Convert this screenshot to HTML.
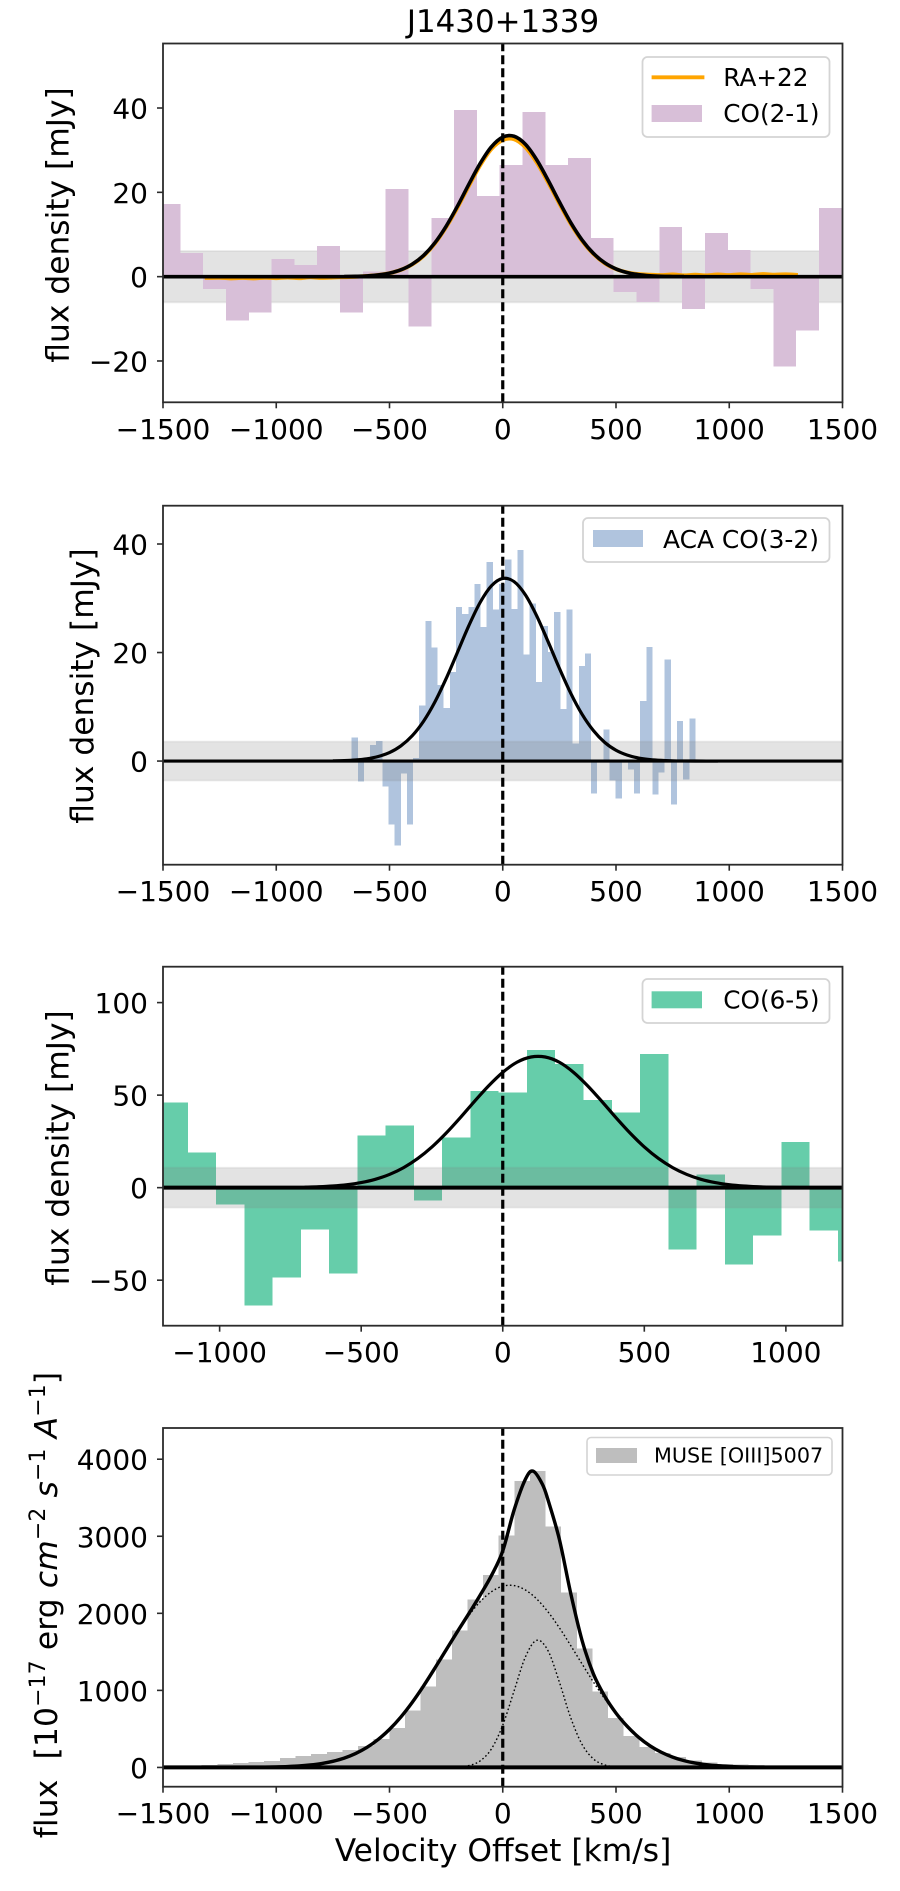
<!DOCTYPE html>
<html lang="en">
<head>
<meta charset="utf-8">
<title>J1430+1339</title>
<style>
html,body{margin:0;padding:0;background:#fff;}
svg{display:block;}
text{font-family:"DejaVu Sans","Liberation Sans",sans-serif;fill:#000;white-space:pre;}
</style>
</head>
<body>
<svg id="figure" xmlns="http://www.w3.org/2000/svg" width="900" height="1891" viewBox="0 0 900 1891">
  <rect x="0" y="0" width="900" height="1891" fill="#fff"/>
  <text x="503" y="32" font-size="30.9" text-anchor="middle">J1430+1339</text>
  <g id="panel-a"></g>
  <g id="panel-b"></g>
  <g id="panel-c"></g>
  <g id="panel-d"></g>

  <text transform="translate(68.5,225) rotate(-90)" font-size="31.3" text-anchor="middle">flux density [mJy]</text>
  <text transform="translate(93,686) rotate(-90)" font-size="31.3" text-anchor="middle">flux density [mJy]</text>
  <text transform="translate(68.5,1148) rotate(-90)" font-size="31.3" text-anchor="middle">flux density [mJy]</text>
  <text transform="translate(57,1605) rotate(-90)" font-size="31.3" letter-spacing="0.15" text-anchor="middle">flux  [10<tspan font-size="21.9" dy="-12">−17</tspan><tspan dy="12"> erg </tspan><tspan font-style="italic">cm</tspan><tspan font-size="21.9" dy="-12">−2</tspan><tspan dy="12"> </tspan><tspan font-style="italic">s</tspan><tspan font-size="21.9" dy="-12">−1</tspan><tspan dy="12"> </tspan><tspan font-style="italic">A</tspan><tspan font-size="21.9" dy="-12">−1</tspan><tspan dy="12">]</tspan></text>
  <text x="503" y="1861" font-size="31.3" text-anchor="middle">Velocity Offset [km/s]</text>

  <g>
    <rect x="642.5" y="57" width="187" height="80" rx="5" fill="#fff" fill-opacity="0.85" stroke="#d4d4d4" stroke-width="1.8"/>
    <line x1="651.6" x2="704.4" y1="77.3" y2="77.3" stroke="#ffa500" stroke-width="3.8"/>
    <text x="723.3" y="86" font-size="24.7">RA+22</text>
    <rect x="651.6" y="105" width="50.4" height="17" fill="#d8bfd8"/>
    <text x="723.3" y="122" font-size="24.7">CO(2-1)</text>
  </g>
  <g>
    <rect x="583" y="518" width="246.5" height="44" rx="5" fill="#fff" fill-opacity="0.85" stroke="#d4d4d4" stroke-width="1.8"/>
    <rect x="593" y="530" width="50" height="17" fill="#b0c4de"/>
    <text x="663" y="548" font-size="24.9">ACA CO(3-2)</text>
  </g>
  <g>
    <rect x="642.5" y="979" width="187" height="44" rx="5" fill="#fff" fill-opacity="0.85" stroke="#d4d4d4" stroke-width="1.8"/>
    <rect x="651.6" y="991.3" width="50.4" height="17" fill="#66cdaa"/>
    <text x="723.3" y="1008.7" font-size="24.7">CO(6-5)</text>
  </g>
  <g>
    <rect x="587" y="1437.5" width="245" height="37.5" rx="4" fill="#fff" fill-opacity="0.85" stroke="#d4d4d4" stroke-width="1.6"/>
    <rect x="596" y="1448" width="41" height="15" fill="#bebebe"/>
    <text x="654" y="1462.7" font-size="20.7">MUSE [OIII]5007</text>
  </g>
</svg>
<script>
// ---------- Chart data ----------
const xTicksWide = [-1500, -1000, -500, 0, 500, 1000, 1500];
const xTicksNarrow = [-1000, -500, 0, 500, 1000];
const co21YTicks = [-20, 0, 20, 40];
const co32YTicks = [0, 20, 40];
const co65YTicks = [-50, 0, 50, 100];
const oiiiYTicks = [0, 1000, 2000, 3000, 4000];

// CO(2-1) histogram
const co21BinStart = -1524;
const co21BinWidth = 100.7;
const co21Flux = [17.2, 5.6, -2.9, -10.4, -8.5, 4.2, 2.8, 7.3, -8.5, 1.2, 20.8, -11.8, 13.9, 39.5, 19.1, 26.5, 39.0, 26.5, 28.1, 9.2, -3.6, -6.0, 11.8, -7.7, 10.3, 6.3, -2.9, -21.3, -12.8, 16.3];
const co21Noise = 6.1;
const co21FitV = [-700, -650, -600, -550, -500, -450, -400, -350, -300, -250, -200, -150, -100, -50, 0, 50, 100, 150, 200, 250, 300, 350, 400, 450, 500, 550, 600, 650, 700, 750, 800];
const co21FitFlux = [0.03, 0.08, 0.18, 0.40, 0.83, 1.62, 2.95, 5.01, 8.0, 11.95, 16.71, 21.88, 26.82, 30.8, 33.1, 33.3, 31.4, 27.7, 22.9, 17.73, 12.84, 8.72, 5.54, 3.29, 1.83, 0.96, 0.47, 0.21, 0.09, 0.04, 0.01];
const ra22V = [-1316, -1250, -1200, -1150, -1100, -1050, -1000, -950, -900, -850, -800, -750, -700, -650, -600, -550, -500, -450, -400, -350, -300, -250, -200, -150, -100, -50, 0, 50, 100, 150, 200, 250, 300, 350, 400, 450, 500, 550, 600, 650, 700, 750, 800, 850, 900, 950, 1000, 1050, 1100, 1150, 1200, 1250, 1303];
const ra22Flux = [-0.3, -0.25, -0.4, -0.3, -0.4, -0.25, -0.35, -0.2, -0.35, -0.15, -0.3, -0.2, -0.1, -0.02, 0.15, 0.39, 0.82, 1.6, 2.9, 4.9, 7.85, 11.75, 16.4, 21.5, 26.4, 30.3, 32.4, 32.6, 30.7, 27.1, 22.4, 17.35, 12.55, 8.5, 5.4, 3.2, 1.8, 1.0, 0.6, 0.45, 0.35, 0.5, 0.3, 0.45, 0.3, 0.5, 0.35, 0.55, 0.4, 0.6, 0.45, 0.55, 0.4];

// ACA CO(3-2) histogram
const co32BinStart = -667;
const co32BinWidth = 27.1;
const co32Flux = [4.3, -3.8, 0, 3.0, 3.7, -4.7, -11.7, -15.6, -2.3, -11.7, 0.6, 10.2, 25.8, 20.9, 14.0, 9.8, 16.4, 28.4, 27.1, 28.4, 32.6, 24.7, 36.7, 27.9, 32.6, 37.1, 28.0, 38.9, 19.6, 29.0, 14.6, 24.9, 20.1, 27.5, 9.6, 27.9, 3.2, 17.5, 19.8, -6.0, 0, 5.8, -3.6, -6.9, -0.2, -1.6, -6.0, 11.1, 21.0, -6.2, -2.1, 18.7, -8.0, 7.4, -3.4, 7.8];
const co32Noise = 3.6;
const co32FitV = [-750, -700, -650, -600, -550, -500, -450, -400, -350, -300, -250, -200, -150, -100, -50, 0, 50, 100, 150, 200, 250, 300, 350, 400, 450, 500, 550, 600, 650, 700, 750, 800, 850, 900, 950];
const co32FitFlux = [0.04, 0.09, 0.2, 0.42, 0.84, 1.57, 2.79, 4.65, 7.32, 10.86, 15.2, 20.04, 24.93, 29.22, 32.3, 33.66, 33.07, 30.63, 26.75, 22.02, 17.1, 12.51, 8.63, 5.62, 3.44, 1.99, 1.09, 0.56, 0.27, 0.12, 0.05, 0.02, 0.01, 0, 0];

// CO(6-5) histogram
const co65BinStart = -1211.8;
const co65BinWidth = 99.8;
const co65Flux = [45.9, 18.9, -9.2, -63.7, -48.6, -22.7, -46.4, 28.1, 33.5, -7.0, 27.0, 52.3, 51.3, 74.5, 66.9, 47.5, 40.5, 72.3, -33.5, 7.0, -41.5, -25.9, 24.8, -23.2, -39.9];
const co65Noise = 10.8;
const co65FitV = [-700, -650, -600, -550, -500, -450, -400, -350, -300, -250, -200, -150, -100, -50, 0, 50, 100, 150, 200, 250, 300, 350, 400, 450, 500, 550, 600, 650, 700, 750, 800, 850, 900, 950, 1000, 1050];
const co65FitFlux = [0.24, 0.48, 0.89, 1.6, 2.74, 4.52, 7.15, 10.84, 15.77, 22.0, 29.45, 37.8, 46.6, 55.0, 62.3, 67.75, 70.6, 70.6, 67.75, 62.3, 55.0, 46.6, 37.8, 29.45, 22.0, 15.77, 10.84, 7.15, 4.52, 2.74, 1.6, 0.89, 0.48, 0.24, 0.11, 0.05];

// MUSE [OIII] histogram
const oiiiBinStart = -1398;
const oiiiBinWidth = 69;
const oiiiFlux = [20, 30, 43, 56, 69, 82, 121, 147, 173, 199, 224, 276, 367, 509, 742, 1053, 1403, 1778, 2180, 2500, 3008, 3720, 3850, 3125, 2270, 1545, 988, 639, 406, 263, 185, 134, 90, 65, 47, 39, 30, 22, 15, 10, 7, 5];
const oiiiTotalV = [-1200, -1150, -1100, -1050, -1000, -950, -900, -850, -800, -750, -700, -650, -600, -550, -500, -450, -400, -350, -300, -250, -200, -150, -100, -50, 0, 50, 100, 134, 175, 200, 250, 300, 350, 400, 450, 500, 550, 600, 650, 700, 750, 800, 850, 900, 950, 1000, 1050, 1100, 1150, 1200];
const oiiiFitTotal = [0.5, 1, 2, 3.6, 6.4, 11.3, 19, 31.7, 51, 79.8, 121, 180, 259, 363, 494, 654, 843, 1056, 1287, 1526, 1763, 1995, 2235, 2490, 2810, 3340, 3740, 3845, 3675, 3470, 2960, 2260, 1650, 1215, 925, 705, 532, 391, 281, 197, 134, 88, 57, 36, 22, 13, 7, 4, 2, 1];
const oiiiFitV = [-1200, -1150, -1100, -1050, -1000, -950, -900, -850, -800, -750, -700, -650, -600, -550, -500, -450, -400, -350, -300, -250, -200, -150, -100, -50, 0, 50, 100, 150, 200, 250, 300, 350, 400, 450, 500, 550, 600, 650, 700, 750, 800, 850, 900, 950, 1000, 1050, 1100, 1150, 1200];
const oiiiFitBroad = [0.5, 1, 2, 3.6, 6.4, 11.3, 19, 31.7, 51, 79.8, 121, 180, 259, 363, 494, 654, 843, 1056, 1287, 1525, 1758, 1971, 2150, 2280, 2352, 2360, 2303, 2186, 2018, 1812, 1582, 1344, 1110, 892, 697, 530, 391, 281, 197, 134, 88, 57, 36, 22, 13, 7, 4, 2, 1];
const oiiiNarrowV = [-400, -300, -200, -150, -100, -50, 0, 50, 100, 150, 200, 250, 300, 350, 400, 450, 500, 550, 600, 700];
const oiiiFitNarrow = [0, 0, 5, 24, 85, 241, 548, 993, 1434, 1650, 1514, 1107, 645, 300, 111, 33, 8, 1.5, 0, 0];

// ---------- Helpers ----------
const SVG_NS = 'http://www.w3.org/2000/svg';

function el(parent, tag, attrs) {
  const node = document.createElementNS(SVG_NS, tag);
  for (const key in attrs) node.setAttribute(key, attrs[key]);
  parent.appendChild(node);
  return node;
}

function linearScale(d0, d1, r0, r1) {
  return function (value) {
    return r0 + (value - d0) * (r1 - r0) / (d1 - d0);
  };
}

function smoothPath(vs, ys, xAxis, yAxis) {
  const pts = vs.map(function (v, i) { return [xAxis(v), yAxis(ys[i])]; });
  let d = 'M' + pts[0][0].toFixed(2) + ' ' + pts[0][1].toFixed(2);
  for (let i = 0; i < pts.length - 1; i++) {
    const p0 = pts[Math.max(i - 1, 0)];
    const p1 = pts[i];
    const p2 = pts[i + 1];
    const p3 = pts[Math.min(i + 2, pts.length - 1)];
    const c1x = p1[0] + (p2[0] - p0[0]) / 6;
    const c1y = p1[1] + (p2[1] - p0[1]) / 6;
    const c2x = p2[0] - (p3[0] - p1[0]) / 6;
    const c2y = p2[1] - (p3[1] - p1[1]) / 6;
    d += 'C' + c1x.toFixed(2) + ' ' + c1y.toFixed(2) + ' ' + c2x.toFixed(2) + ' ' + c2y.toFixed(2) + ' ' + p2[0].toFixed(2) + ' ' + p2[1].toFixed(2);
  }
  return d;
}

function fmtTick(v) {
  return v < 0 ? '\u2212' + Math.abs(v) : String(v);
}

function drawPanel(cfg) {
  const g = document.getElementById(cfg.id);
  const xAxis = linearScale(cfg.xDomain[0], cfg.xDomain[1], cfg.left, cfg.right);
  const yAxis = linearScale(cfg.yDomain[0], cfg.yDomain[1], cfg.bottom, cfg.top);
  const clipId = cfg.id + '-clip';
  const defs = el(g, 'defs', {});
  const clip = el(defs, 'clipPath', { id: clipId });
  el(clip, 'rect', { x: cfg.left, y: cfg.top, width: cfg.right - cfg.left, height: cfg.bottom - cfg.top });
  const plot = el(g, 'g', { 'clip-path': 'url(#' + clipId + ')' });

  function drawBand() {
    if (!cfg.noise) return;
    const yTop = yAxis(cfg.noise);
    const yBot = yAxis(-cfg.noise);
    const band = el(plot, 'rect', { x: cfg.left - 2, y: yTop, width: cfg.right - cfg.left + 4, height: yBot - yTop, fill: '#808080', 'fill-opacity': 0.22, stroke: '#808080', 'stroke-opacity': 0.12, 'stroke-width': 1.8 });
    
    
  }

  function drawBars() {
    cfg.flux.forEach(function (value, i) {
      const x0 = xAxis(cfg.binStart + i * cfg.binWidth);
      const x1 = xAxis(cfg.binStart + (i + 1) * cfg.binWidth);
      const y0 = yAxis(0);
      const y1 = yAxis(value);
      const bar = el(plot, 'rect', { x: x0, y: Math.min(y0, y1), width: x1 - x0, height: Math.abs(y1 - y0), fill: cfg.color, 'shape-rendering': 'crispEdges' });
      
      
    });
  }

  if (cfg.bandFirst) { drawBand(); drawBars(); } else { drawBars(); drawBand(); }

  cfg.curves.forEach(function (curve) {
    const attrs = { d: smoothPath(curve.v, curve.y, xAxis, yAxis), fill: 'none', stroke: curve.color, 'stroke-width': curve.width, 'stroke-linejoin': 'round' };
    if (curve.dash) attrs['stroke-dasharray'] = curve.dash;
    const path = el(plot, 'path', attrs);
    
    
  });

  const zeroLine = el(plot, 'line', { x1: cfg.left, x2: cfg.right, y1: yAxis(0), y2: yAxis(0), stroke: '#000', 'stroke-width': cfg.zeroWidth });
  
  

  const systemic = el(plot, 'line', { x1: xAxis(0), x2: xAxis(0), y1: cfg.bottom, y2: cfg.top, stroke: '#000', 'stroke-width': 3.2, 'stroke-dasharray': '9 4' });
  
  

  const frame = el(g, 'rect', { x: cfg.left, y: cfg.top, width: cfg.right - cfg.left, height: cfg.bottom - cfg.top, fill: 'none', stroke: '#2b2b2b', 'stroke-width': 1.8 });
  
  

  cfg.xTicks.forEach(function (v) {
    const x = xAxis(v);
    const mark = el(g, 'line', { x1: x, x2: x, y1: cfg.bottom, y2: cfg.bottom + 6, stroke: '#2b2b2b', 'stroke-width': 1.6 });
    
    
    const label = el(g, 'text', { x: x, y: cfg.bottom + 36.5, 'font-size': 28, 'text-anchor': 'middle' });
    
    
    label.textContent = fmtTick(v);
  });

  cfg.yTicks.forEach(function (v) {
    const y = yAxis(v);
    const mark = el(g, 'line', { x1: cfg.left - 6, x2: cfg.left, y1: y, y2: y, stroke: '#2b2b2b', 'stroke-width': 1.6 });
    
    
    const label = el(g, 'text', { x: 148, y: y + 10.5, 'font-size': 28, 'text-anchor': 'end' });
    
    
    label.textContent = fmtTick(v);
  });
}

// ---------- Panels ----------
drawPanel({
  id: 'panel-a', left: 163, right: 842.5, top: 43.5, bottom: 402.3,
  xDomain: [-1500, 1500], yDomain: [-29.8, 55.3], xTicks: xTicksWide, yTicks: co21YTicks,
  flux: co21Flux, binStart: co21BinStart, binWidth: co21BinWidth, color: '#d8bfd8',
  noise: co21Noise, bandFirst: true, zeroWidth: 3.6,
  curves: [
    { name: 'ra22-fit-curve', v: ra22V, y: ra22Flux, color: '#ffa500', width: 4 },
    { name: 'co21-fit-curve', v: co21FitV, y: co21FitFlux, color: '#000', width: 3.6 }
  ]
});

drawPanel({
  id: 'panel-b', left: 163, right: 842.5, top: 505.7, bottom: 864.7,
  xDomain: [-1500, 1500], yDomain: [-19.1, 47.06], xTicks: xTicksWide, yTicks: co32YTicks,
  flux: co32Flux, binStart: co32BinStart, binWidth: co32BinWidth, color: '#b0c4de',
  noise: co32Noise, bandFirst: false, zeroWidth: 3.2,
  curves: [
    { name: 'co32-fit-curve', v: co32FitV, y: co32FitFlux, color: '#000', width: 3.2 }
  ]
});

drawPanel({
  id: 'panel-c', left: 163, right: 842.5, top: 966.7, bottom: 1325.7,
  xDomain: [-1200, 1200], yDomain: [-74.6, 119.4], xTicks: xTicksNarrow, yTicks: co65YTicks,
  flux: co65Flux, binStart: co65BinStart, binWidth: co65BinWidth, color: '#66cdaa',
  noise: co65Noise, bandFirst: false, zeroWidth: 4,
  curves: [
    { name: 'co65-fit-curve', v: co65FitV, y: co65FitFlux, color: '#000', width: 3.2 }
  ]
});

drawPanel({
  id: 'panel-d', left: 163, right: 842.5, top: 1428, bottom: 1786.7,
  xDomain: [-1500, 1500], yDomain: [-250, 4405], xTicks: xTicksWide, yTicks: oiiiYTicks,
  flux: oiiiFlux, binStart: oiiiBinStart, binWidth: oiiiBinWidth, color: '#bebebe',
  noise: 0, bandFirst: false, zeroWidth: 4,
  curves: [
    { name: 'oiii-broad-component', v: oiiiFitV, y: oiiiFitBroad, color: '#000', width: 1.4, dash: '1.6 2.4' },
    { name: 'oiii-narrow-component', v: oiiiNarrowV, y: oiiiFitNarrow, color: '#000', width: 1.4, dash: '1.6 2.4' },
    { name: 'oiii-total-fit-curve', v: oiiiTotalV, y: oiiiFitTotal, color: '#000', width: 3.4 }
  ]
});
</script>
</body>
</html>
